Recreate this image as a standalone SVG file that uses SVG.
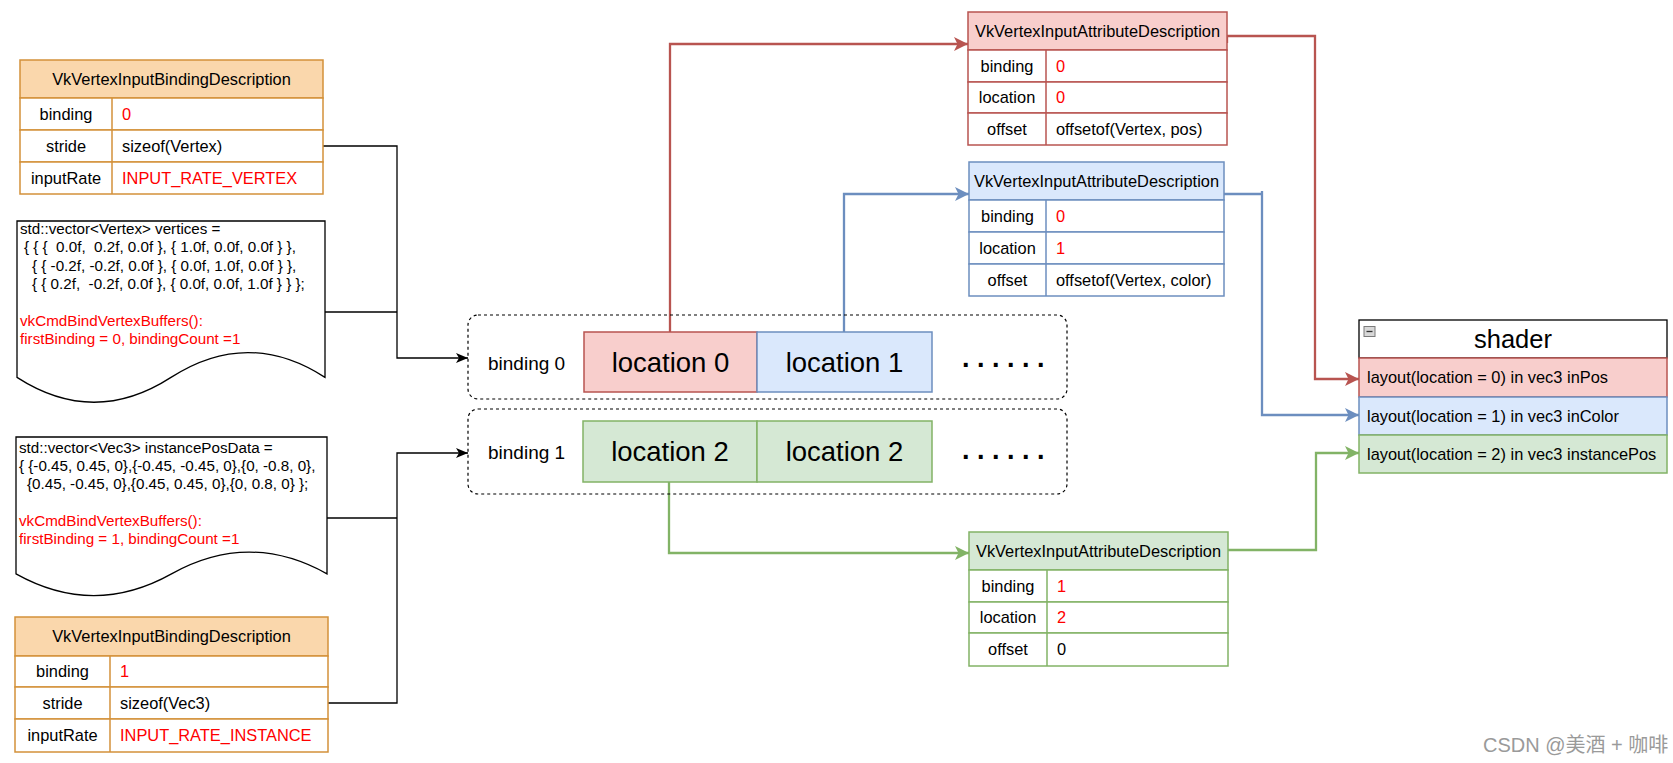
<svg xmlns="http://www.w3.org/2000/svg" width="1673" height="763" viewBox="0 0 1673 763">
<defs>
<style>
text{font-family:"Liberation Sans",Arial,sans-serif;fill:#000;}
.t16{font-size:16.4px;}
.c{text-anchor:middle;}
.red{fill:#ff0000;}
.code{font-size:15.2px;}
.org{fill:#fff;stroke:#d3913a;stroke-width:1.5;}
.orgH{fill:#fad7ac;stroke:#d3913a;stroke-width:1.5;}
.rH{fill:#f8cecc;stroke:#b85450;stroke-width:1.5;}
.rC{fill:#fff;stroke:#b85450;stroke-width:1.5;}
.bH{fill:#dae8fc;stroke:#6c8ebf;stroke-width:1.5;}
.bC{fill:#fff;stroke:#6c8ebf;stroke-width:1.5;}
.gH{fill:#d5e8d4;stroke:#82b366;stroke-width:1.5;}
.gC{fill:#fff;stroke:#82b366;stroke-width:1.5;}
.doc{fill:#fff;stroke:#000;stroke-width:1.3;}
.dash{fill:none;stroke:#000;stroke-width:1.2;stroke-dasharray:3 3;}
.loc{font-size:27.5px;}
.dots{font-size:27px;font-weight:bold;}
.blk{fill:none;stroke:#000;stroke-width:1.3;}
.cr{fill:none;stroke:#b85450;stroke-width:2.3;}
.cb{fill:none;stroke:#6c8ebf;stroke-width:2.3;}
.cg{fill:none;stroke:#82b366;stroke-width:2.3;}
</style>
<marker id="aK" markerUnits="userSpaceOnUse" markerWidth="14" markerHeight="12" viewBox="0 -6 14 12" refX="12" refY="0" orient="auto"><path d="M0,-5 L12,0 L0,5 L3,0 Z" fill="#000"/></marker>
<marker id="aR" markerUnits="userSpaceOnUse" markerWidth="16" markerHeight="16" viewBox="0 -8 16 16" refX="14" refY="0" orient="auto"><path d="M0,-7 L14,0 L0,7 L3.5,0 Z" fill="#b85450"/></marker>
<marker id="aB" markerUnits="userSpaceOnUse" markerWidth="16" markerHeight="16" viewBox="0 -8 16 16" refX="14" refY="0" orient="auto"><path d="M0,-7 L14,0 L0,7 L3.5,0 Z" fill="#6c8ebf"/></marker>
<marker id="aG" markerUnits="userSpaceOnUse" markerWidth="16" markerHeight="16" viewBox="0 -8 16 16" refX="14" refY="0" orient="auto"><path d="M0,-7 L14,0 L0,7 L3.5,0 Z" fill="#82b366"/></marker>
</defs>
<rect width="1673" height="763" fill="#fff"/>

<!-- connectors -->
<g id="connectors">
<path class="blk" d="M323,146 H397 V358 H468" marker-end="url(#aK)"/>
<path class="blk" d="M325,312 H397"/>
<path class="blk" d="M328,703 H397 V453 H468" marker-end="url(#aK)"/>
<path class="blk" d="M327,518 H397"/>
<path class="cr" d="M670,332 V44 H968" marker-end="url(#aR)"/>
<path class="cb" d="M844,332 V194 H969" marker-end="url(#aB)"/>
<path class="cg" d="M669,482 V553 H969" marker-end="url(#aG)"/>
<path class="cr" d="M1227,43 V36 H1315 V379 H1359" marker-end="url(#aR)"/>
<path class="cb" d="M1224,194 H1262 M1262,191 V415 H1359" marker-end="url(#aB)"/>
<path class="cg" d="M1228,550 H1316 V453 H1359" marker-end="url(#aG)"/>
</g>

<!-- binding description 0 -->
<g id="bindingDesc0">
<rect class="orgH" x="20" y="60" width="303" height="38"/>
<rect class="org" x="20" y="98" width="303" height="32"/>
<rect class="org" x="20" y="130" width="303" height="32"/>
<rect class="org" x="20" y="162" width="303" height="32"/>
<line x1="112" y1="98" x2="112" y2="194" stroke="#d3913a" stroke-width="1.5"/>
<text class="t16 c" x="171.5" y="84.8">VkVertexInputBindingDescription</text>
<text class="t16 c" x="66" y="119.8">binding</text>
<text class="t16 red" x="122" y="119.8">0</text>
<text class="t16 c" x="66" y="151.8">stride</text>
<text class="t16" x="122" y="151.8">sizeof(Vertex)</text>
<text class="t16 c" x="66" y="183.8">inputRate</text>
<text class="t16 red" x="122" y="183.8">INPUT_RATE_VERTEX</text>
</g>

<!-- document 1 -->
<g id="doc1">
<path class="doc" d="M17,221 H325 V377.4 Q248,327.7 171,377.4 Q94,427.1 17,377.4 Z"/>
<text class="code" xml:space="preserve" x="20" y="234">std::vector&lt;Vertex&gt; vertices =</text>
<text class="code" xml:space="preserve" x="24" y="252.3">{ { {  0.0f,  0.2f, 0.0f }, { 1.0f, 0.0f, 0.0f } },</text>
<text class="code" xml:space="preserve" x="32" y="270.6">{ { -0.2f, -0.2f, 0.0f }, { 0.0f, 1.0f, 0.0f } },</text>
<text class="code" xml:space="preserve" x="32" y="288.9">{ { 0.2f,  -0.2f, 0.0f }, { 0.0f, 0.0f, 1.0f } } };</text>
<text class="code red" x="20" y="325.5">vkCmdBindVertexBuffers():</text>
<text class="code red" x="20" y="343.8">firstBinding = 0, bindingCount =1</text>
</g>

<!-- document 2 -->
<g id="doc2">
<path class="doc" d="M16,437 H327 V573.85 Q249.25,530.4 171.5,573.85 Q93.75,617.3 16,573.85 Z"/>
<text class="code" xml:space="preserve" x="19" y="452.5">std::vector&lt;Vec3&gt; instancePosData =</text>
<text class="code" xml:space="preserve" x="19" y="470.8">{ {-0.45, 0.45, 0},{-0.45, -0.45, 0},{0, -0.8, 0},</text>
<text class="code" xml:space="preserve" x="27" y="489.1">{0.45, -0.45, 0},{0.45, 0.45, 0},{0, 0.8, 0} };</text>
<text class="code red" x="19" y="525.7">vkCmdBindVertexBuffers():</text>
<text class="code red" x="19" y="544">firstBinding = 1, bindingCount =1</text>
</g>

<!-- binding description 1 -->
<g id="bindingDesc1">
<rect class="orgH" x="15" y="617" width="313" height="39"/>
<rect class="org" x="15" y="656" width="313" height="31"/>
<rect class="org" x="15" y="687" width="313" height="32"/>
<rect class="org" x="15" y="719" width="313" height="33"/>
<line x1="110" y1="656" x2="110" y2="752" stroke="#d3913a" stroke-width="1.5"/>
<text class="t16 c" x="171.5" y="642.3">VkVertexInputBindingDescription</text>
<text class="t16 c" x="62.5" y="677.3">binding</text>
<text class="t16 red" x="120" y="677.3">1</text>
<text class="t16 c" x="62.5" y="708.8">stride</text>
<text class="t16" x="120" y="708.8">sizeof(Vec3)</text>
<text class="t16 c" x="62.5" y="741.3">inputRate</text>
<text class="t16 red" x="120" y="741.3">INPUT_RATE_INSTANCE</text>
</g>

<!-- binding 0 buffer -->
<g id="buffer0">
<rect class="dash" x="468" y="315" width="599" height="84" rx="10" ry="10"/>
<text x="488" y="369.5" style="font-size:19px">binding 0</text>
<rect class="rH" x="584" y="332" width="173" height="60"/>
<rect class="bH" x="757" y="332" width="175" height="60"/>
<text class="loc c" x="670.5" y="371.5">location 0</text>
<text class="loc c" x="844.5" y="371.5">location 1</text>
<text class="dots" xml:space="preserve" x="962" y="367">. . . . . .</text>
</g>

<!-- binding 1 buffer -->
<g id="buffer1">
<rect class="dash" x="468" y="409" width="599" height="85" rx="10" ry="10"/>
<text x="488" y="458.5" style="font-size:19px">binding 1</text>
<rect class="gH" x="583" y="421" width="174" height="61"/>
<rect class="gH" x="757" y="421" width="175" height="61"/>
<text class="loc c" x="670" y="461">location 2</text>
<text class="loc c" x="844.5" y="461">location 2</text>
<text class="dots" xml:space="preserve" x="962" y="459">. . . . . .</text>
</g>

<!-- attribute description 0 -->
<g id="attrDesc0">
<rect class="rH" x="968" y="12" width="259" height="38"/>
<rect class="rC" x="968" y="50" width="259" height="32"/>
<rect class="rC" x="968" y="82" width="259" height="31"/>
<rect class="rC" x="968" y="113" width="259" height="32"/>
<line x1="1046" y1="50" x2="1046" y2="145" stroke="#b85450" stroke-width="1.5"/>
<text class="t16 c" x="1097.5" y="36.8">VkVertexInputAttributeDescription</text>
<text class="t16 c" x="1007" y="71.8">binding</text>
<text class="t16 red" x="1056" y="71.8">0</text>
<text class="t16 c" x="1007" y="103.3">location</text>
<text class="t16 red" x="1056" y="103.3">0</text>
<text class="t16 c" x="1007" y="134.8">offset</text>
<text class="t16" x="1056" y="134.8">offsetof(Vertex, pos)</text>
</g>

<!-- attribute description 1 -->
<g id="attrDesc1">
<rect class="bH" x="969" y="162" width="255" height="38"/>
<rect class="bC" x="969" y="200" width="255" height="32"/>
<rect class="bC" x="969" y="232" width="255" height="32"/>
<rect class="bC" x="969" y="264" width="255" height="32"/>
<line x1="1046" y1="200" x2="1046" y2="296" stroke="#6c8ebf" stroke-width="1.5"/>
<text class="t16 c" x="1096.5" y="186.8">VkVertexInputAttributeDescription</text>
<text class="t16 c" x="1007.5" y="221.8">binding</text>
<text class="t16 red" x="1056" y="221.8">0</text>
<text class="t16 c" x="1007.5" y="253.8">location</text>
<text class="t16 red" x="1056" y="253.8">1</text>
<text class="t16 c" x="1007.5" y="285.8">offset</text>
<text class="t16" x="1056" y="285.8">offsetof(Vertex, color)</text>
</g>

<!-- attribute description 2 -->
<g id="attrDesc2">
<rect class="gH" x="969" y="532" width="259" height="38"/>
<rect class="gC" x="969" y="570" width="259" height="32"/>
<rect class="gC" x="969" y="602" width="259" height="31"/>
<rect class="gC" x="969" y="633" width="259" height="33"/>
<line x1="1047" y1="570" x2="1047" y2="666" stroke="#82b366" stroke-width="1.5"/>
<text class="t16 c" x="1098.5" y="556.8">VkVertexInputAttributeDescription</text>
<text class="t16 c" x="1008" y="591.8">binding</text>
<text class="t16 red" x="1057" y="591.8">1</text>
<text class="t16 c" x="1008" y="623.3">location</text>
<text class="t16 red" x="1057" y="623.3">2</text>
<text class="t16 c" x="1008" y="655.3">offset</text>
<text class="t16" x="1057" y="655.3">0</text>
</g>

<!-- shader -->
<g id="shader">
<rect x="1359" y="320" width="308" height="38" fill="#fff" stroke="#000" stroke-width="1.3"/>
<rect x="1364" y="326.5" width="11" height="10" fill="#d8d8d8" stroke="#7a7a7a" stroke-width="1"/>
<line x1="1366.5" y1="331.5" x2="1372.5" y2="331.5" stroke="#333" stroke-width="1.3"/>
<text class="c" x="1513" y="348" style="font-size:25.5px">shader</text>
<rect class="rH" x="1359" y="358" width="308" height="39"/>
<rect class="bH" x="1359" y="397" width="308" height="38"/>
<rect class="gH" x="1359" y="435" width="308" height="38"/>
<text class="t16" x="1367" y="383.3">layout(location = 0) in vec3 inPos</text>
<text class="t16" x="1367" y="421.8">layout(location = 1) in vec3 inColor</text>
<text class="t16" x="1367" y="459.8">layout(location = 2) in vec3 instancePos</text>
</g>

<text x="1483" y="752" style="font-size:20px;fill:#9a9a9a;font-family:'Liberation Sans','Noto Sans CJK SC',sans-serif">CSDN @美酒 + 咖啡</text>
</svg>
